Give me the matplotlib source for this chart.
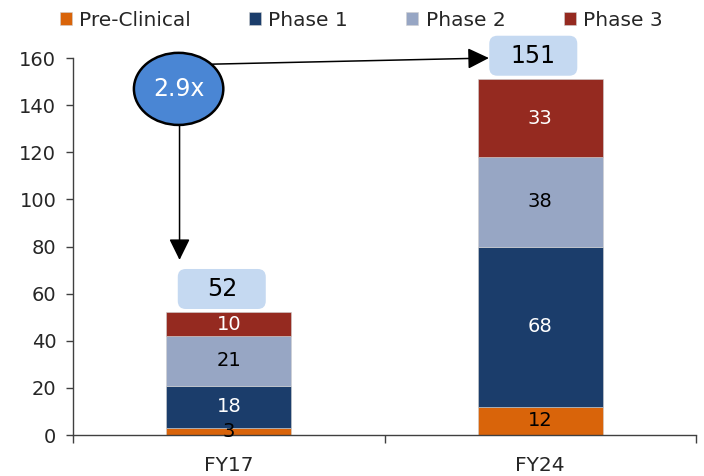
import matplotlib.pyplot as plt
from matplotlib.patches import Ellipse, FancyBboxPatch
from matplotlib.transforms import ScaledTranslation

years = ['FY17', 'FY24']
phases = ['Pre-Clinical', 'Phase 1', 'Phase 2', 'Phase 3']
pre_clinical = [3, 12]
phase_1 = [18, 68]
phase_2 = [21, 38]
phase_3 = [10, 33]
growth_label = '2.9x'

colors = ['#D9640A', '#1B3D6B', '#97A6C4', '#952A20']
label_colors = ['black', 'white', 'black', 'white']

plt.rcParams['font.family'] = ['DejaVu Sans']

fig = plt.figure(figsize=(7.04, 4.76), dpi=100)
ax = fig.add_axes([0.1037, 0.0861, 0.885, 0.792])

x = list(range(len(years)))
bottom = [0, 0]
for name, vals, col, lc in zip(phases, [pre_clinical, phase_1, phase_2, phase_3], colors, label_colors):
    bars = ax.bar(x, vals, width=0.4, bottom=bottom, color=col, label=name,
                  edgecolor='#d0d0d0', linewidth=0.4)
    ax.bar_label(bars, labels=[str(v) for v in vals], label_type='center',
                 color=lc, fontsize=14)
    bottom = [b + v for b, v in zip(bottom, vals)]
totals = bottom

# rounded total boxes above each stack
for i, t in enumerate(totals):
    tr = fig.dpi_scale_trans + ScaledTranslation(i, t, ax.transData)
    box = FancyBboxPatch((-0.51, 0.035), 0.88, 0.40,
                         boxstyle='round,pad=0,rounding_size=0.08',
                         facecolor='#C5D9F1', edgecolor='none',
                         transform=tr, clip_on=False, zorder=3)
    ax.add_patch(box)
    ax.text(-0.07, 0.235, str(t), transform=tr, ha='center', va='center',
            fontsize=17, zorder=4)

# growth bubble with arrows to both totals
ell = Ellipse((-0.161, 146.9), 0.287, 30.6, facecolor='#4A86D4',
              edgecolor='black', linewidth=1.8, clip_on=False, zorder=5)
ax.add_patch(ell)
ax.text(-0.161, 146.9, growth_label, ha='center', va='center', color='white',
        fontsize=17, zorder=6)
arrow = dict(arrowstyle='-|>,head_length=0.65,head_width=0.32', color='black',
             lw=1.1, mutation_scale=20, shrinkA=0, shrinkB=0)
ax.annotate('', xy=(-0.158, 74.3), xytext=(-0.158, 131.8),
            arrowprops=arrow, annotation_clip=False)
ax.annotate('', xy=(0.835, 160.0), xytext=(-0.052, 157.4),
            arrowprops=arrow, annotation_clip=False)

ax.set_xlim(-0.5, 1.5)
ax.set_ylim(0, 160)
ax.set_yticks(range(0, 161, 20))
ax.set_xticks(x)
ax.set_xticklabels(years)
ax.set_xticks([-0.5, 0.5, 1.5], minor=True)
ax.tick_params(axis='x', which='major', length=0, pad=15, labelsize=14.5,
               labelcolor='#262626')
ax.tick_params(axis='x', which='minor', length=6, width=1, color='#404040')
ax.tick_params(axis='y', length=5, width=1, color='#404040', labelsize=14,
               pad=7, labelcolor='#262626')
for s in ['top', 'right']:
    ax.spines[s].set_visible(False)
for s in ['left', 'bottom']:
    ax.spines[s].set_color('#404040')
    ax.spines[s].set_linewidth(1)

leg = fig.legend(loc='center', bbox_to_anchor=(0.513, 0.957), ncol=4,
                 frameon=False, fontsize=14.5, handlelength=0.6,
                 handleheight=0.6, handletextpad=0.35, columnspacing=2.9)
for txt in leg.get_texts():
    txt.set_color('#262626')

fig.savefig('out.png', dpi=100)
